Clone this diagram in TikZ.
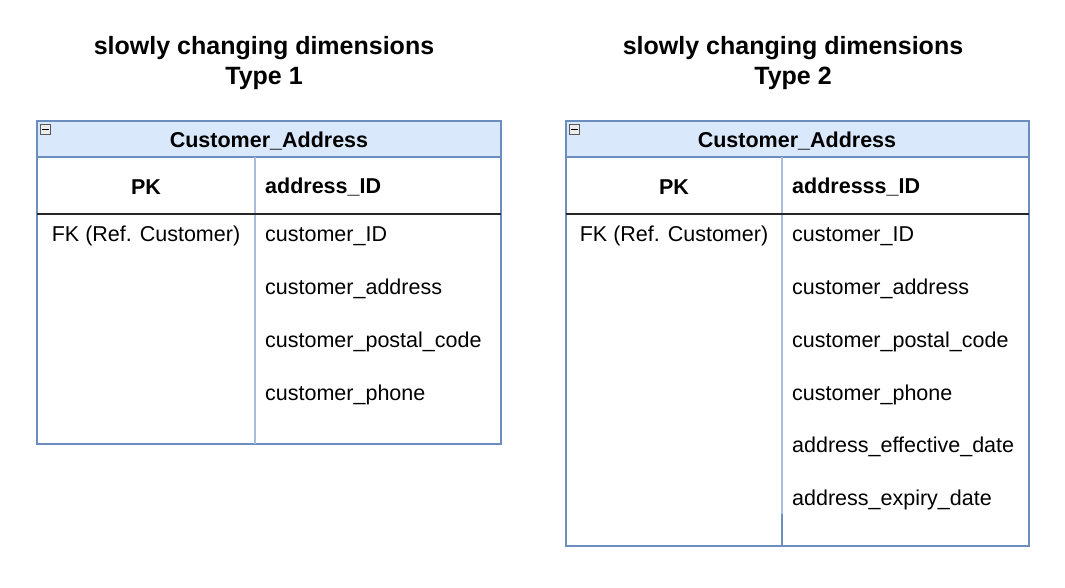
\documentclass[tikz,border=0pt]{standalone}
\usepackage{fontspec}
\setmainfont{Liberation Sans}
\definecolor{bord}{HTML}{6C8EBF}
\definecolor{bordlt}{HTML}{A9BCD9}
\definecolor{hdr}{HTML}{DAE8FC}
\begin{document}
\begin{tikzpicture}[x=1pt,y=-1pt,
  txt/.style={font=\fontsize{21.5}{25}\selectfont,inner sep=0pt,anchor=west},
  ctxt/.style={font=\fontsize{21.5}{25}\selectfont,inner sep=0pt},
  btxt/.style={font=\fontsize{21.5}{25}\selectfont\bfseries,inner sep=0pt},
  title/.style={font=\fontsize{25}{30}\selectfont\bfseries,inner sep=0pt,align=center},
  frame/.style={draw=bord,line width=1.1pt},
  hdrbox/.style={draw=bord,fill=hdr,line width=1.1pt},
  pkline/.style={draw=black!85,line width=1.4pt},
  divline/.style={draw=bordlt,line width=1.1pt},
  icon/.style={draw=gray!70!black,fill=gray!15,line width=0.6pt,minimum size=10pt,inner sep=0pt}]
\useasboundingbox[fill=white] (0,0) rectangle (1065,587);

% ---------- Left table ----------
\node[title] (tL1) at (264,48) {slowly changing dimensions};
\node[title] (tL2) at (264,78) {Type 1};
\draw[frame] (37,121) rectangle (501,444);
\draw[hdrbox] (37,121) rectangle (501,157);
\draw[divline] (255,157) -- (255,444);
\draw[pkline] (37,214) -- (501,214);
\node[icon] (icL) at (45.5,129.5) {};
\draw[line width=0.8pt] (42,129.5) -- (49,129.5);
\node[btxt] (hL) at (269,141) {Customer\_Address};
\node[btxt] (pkL) at (146,187) {PK};
\node[btxt,anchor=west] (idL) at (265,187) {address\_ID};
\node[ctxt] (fkL) at (146,236) {FK (Ref. Customer)};
\node[txt] (a1) at (265,236) {customer\_ID};
\node[txt] (a2) at (265,289) {customer\_address};
\node[txt] (a3) at (265,342) {customer\_postal\_code};
\node[txt] (a4) at (265,395) {customer\_phone};

% ---------- Right table ----------
\node[title] (tR1) at (793,48) {slowly changing dimensions};
\node[title] (tR2) at (793,78) {Type 2};
\draw[frame] (566,121) rectangle (1029,546);
\draw[hdrbox] (566,121) rectangle (1029,157);
\draw[divline] (782,157) -- (782,514);
\draw[frame] (782,514) -- (782,546);
\draw[pkline] (566,214) -- (1029,214);
\node[icon] (icR) at (574.5,129.5) {};
\draw[line width=0.8pt] (571,129.5) -- (578,129.5);
\node[btxt] (hR) at (797,141) {Customer\_Address};
\node[btxt] (pkR) at (674,187) {PK};
\node[btxt,anchor=west] (idR) at (792,187) {addresss\_ID};
\node[ctxt] (fkR) at (674,236) {FK (Ref. Customer)};
\node[txt] (b1) at (792,236) {customer\_ID};
\node[txt] (b2) at (792,289) {customer\_address};
\node[txt] (b3) at (792,342) {customer\_postal\_code};
\node[txt] (b4) at (792,395) {customer\_phone};
\node[txt] (b5) at (792,447) {address\_effective\_date};
\node[txt] (b6) at (792,500) {address\_expiry\_date};
\end{tikzpicture}
\end{document}
